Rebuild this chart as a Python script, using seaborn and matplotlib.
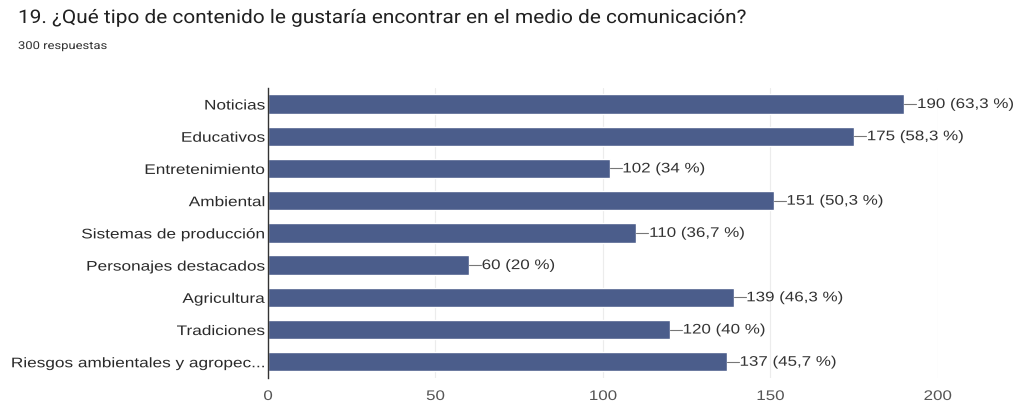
import matplotlib
matplotlib.use("Agg")
import matplotlib.pyplot as plt
from matplotlib.patheffects import AbstractPathEffect
from matplotlib.transforms import Affine2D
import seaborn as sns
import pandas as pd

categorias = [
    "Noticias",
    "Educativos",
    "Entretenimiento",
    "Ambiental",
    "Sistemas de producción",
    "Personajes destacados",
    "Agricultura",
    "Tradiciones",
    "Riesgos ambientales y agropec...",
]
respuestas = [190, 175, 102, 151, 110, 60, 139, 120, 137]
porcentajes = ["63,3", "58,3", "34", "50,3", "36,7", "20", "46,3", "40", "45,7"]
ticks_x = [0, 50, 100, 150, 200]


class WideText(AbstractPathEffect):
    """Draw text glyphs widened horizontally about a chosen anchor."""

    def __init__(self, sx, anchor="left"):
        super().__init__()
        self.sx = sx
        self.anchor = anchor

    def draw_path(self, renderer, gc, tpath, affine, rgbFace=None):
        xs = tpath.vertices[:, 0]
        if len(xs) == 0:
            x0 = 0.0
        elif self.anchor == "right":
            x0 = xs.max()
        elif self.anchor == "center":
            x0 = 0.5 * (xs.min() + xs.max())
        else:
            x0 = 0.0
        t = Affine2D().translate(-x0, 0).scale(self.sx, 1).translate(x0, 0) + affine
        renderer.draw_path(gc, tpath, t, rgbFace)


sns.set_theme(style="white")
plt.rcParams["font.family"] = ["Arial", "Liberation Sans", "DejaVu Sans"]

df = pd.DataFrame({"categoria": categorias, "respuestas": respuestas})

fig = plt.figure(figsize=(10.21, 4.05), dpi=100)
ax = fig.add_axes([0.2625, 0.067, 0.656, 0.716])

sns.barplot(data=df, y="categoria", x="respuestas", orient="h",
            color="#4b5d8b", saturation=1, width=0.6, ax=ax)

ax.set_xlim(0, 200)
ax.set_ylim(len(categorias) - 0.5, -0.5)
ax.set_xticks(ticks_x)
ax.set_xticklabels([str(t) for t in ticks_x], color="#555555", fontsize=10)
ax.tick_params(axis="y", labelsize=10, labelcolor="#2a2a2a", length=0, pad=2)
ax.tick_params(axis="x", length=0, pad=8)
ax.set_xlabel("")
ax.set_ylabel("")
for lbl in ax.get_yticklabels():
    lbl.set_path_effects([WideText(1.24, "right")])
for lbl in ax.get_xticklabels():
    lbl.set_path_effects([WideText(1.22, "center")])

for t in ticks_x[1:]:
    ax.axvline(t, color="#ececec", lw=0.8, zorder=0)
for s in ["top", "right", "bottom"]:
    ax.spines[s].set_visible(False)
ax.spines["left"].set_color("#333333")
ax.spines["left"].set_linewidth(1.0)

for i, (v, p) in enumerate(zip(respuestas, porcentajes)):
    ax.plot([v, v + 3.6], [i, i], color="#777777", lw=0.8, clip_on=False)
    ax.text(v + 3.8, i, f"{v} ({p} %)", va="center", ha="left",
            fontsize=10, color="#333333",
            path_effects=[WideText(1.22, "left")])

fig.text(18 / 1021, 1 - 18 / 405,
         "19. ¿Qué tipo de contenido le gustaría encontrar en el medio de comunicación?",
         fontsize=13.5, color="#212121", va="center", ha="left",
         family=["Roboto", "DejaVu Sans"],
         path_effects=[WideText(1.11, "left")])
fig.text(18 / 1021, 1 - 46 / 405, "300 respuestas",
         fontsize=7.8, color="#333333", va="center", ha="left",
         family=["Roboto", "DejaVu Sans"],
         path_effects=[WideText(1.2, "left")])

fig.savefig("out.png", dpi=100)
